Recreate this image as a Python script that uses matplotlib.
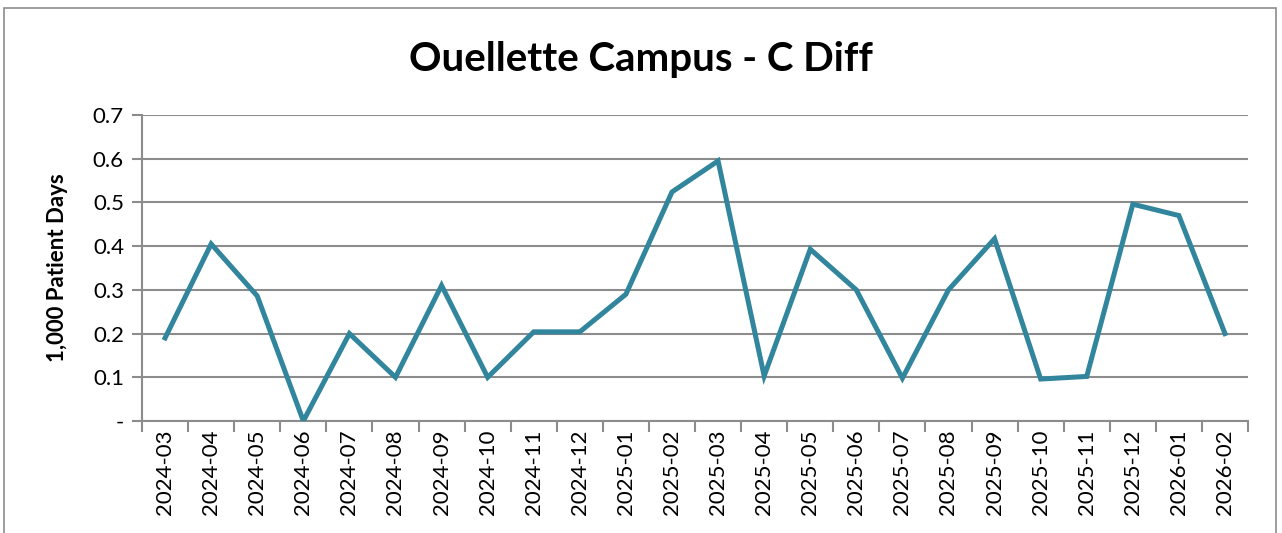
import matplotlib.pyplot as plt
import numpy as np
from matplotlib.patches import Rectangle
from matplotlib.ticker import FixedLocator, FuncFormatter

months = [
    "2024-03", "2024-04", "2024-05", "2024-06", "2024-07", "2024-08",
    "2024-09", "2024-10", "2024-11", "2024-12", "2025-01", "2025-02",
    "2025-03", "2025-04", "2025-05", "2025-06", "2025-07", "2025-08",
    "2025-09", "2025-10", "2025-11", "2025-12", "2026-01", "2026-02",
]
rates = [
    0.19, 0.405, 0.286, 0.0, 0.2, 0.1,
    0.31, 0.1, 0.204, 0.204, 0.29, 0.524,
    0.595, 0.103, 0.393, 0.3, 0.098, 0.3,
    0.417, 0.096, 0.102, 0.496, 0.47, 0.2,
]
y_ticks = [0, 0.1, 0.2, 0.3, 0.4, 0.5, 0.6, 0.7]

plt.rcParams["font.family"] = ["Lato", "DejaVu Sans"]
grid_col = "#8c8c8c"

fig = plt.figure(figsize=(12.82, 5.33), dpi=100)
ax = fig.add_axes([0.1108, 0.2101, 0.8627, 0.5741])

# outer chart frame
fig.patches.append(Rectangle((0.0035, -0.01), 0.992, 0.995, transform=fig.transFigure,
                             fill=False, edgecolor="#8c8c8c", linewidth=1.2))

x = np.arange(len(months))
ax.plot(x, rates, color="#31859C", linewidth=3.6, solid_joinstyle="miter", zorder=3)

ax.set_xlim(-0.5, len(months) - 0.5)
ax.set_ylim(0, 0.7)
ax.set_yticks(y_ticks)
ax.yaxis.set_major_formatter(FuncFormatter(lambda v, p: "-" if v == 0 else f"{v:.1f}"))
ax.grid(axis="y", color=grid_col, linewidth=1.5)
ax.set_axisbelow(True)

# category boundary ticks, labels at centers
ax.xaxis.set_major_locator(FixedLocator(np.arange(-0.5, len(months), 1.0)))
ax.xaxis.set_major_formatter(FuncFormatter(lambda v, p: ""))
ax.xaxis.set_minor_locator(FixedLocator(x))
ax.set_xticklabels(months, minor=True, rotation=90, fontsize=16)
ax.tick_params(axis="x", which="major", length=8, width=1.5, color=grid_col)
ax.tick_params(axis="x", which="minor", length=0, pad=6)
ax.tick_params(axis="y", length=7, width=1.5, color=grid_col, labelsize=16, pad=6)

for s in ["top", "right"]:
    ax.spines[s].set_visible(False)
for s in ["left", "bottom"]:
    ax.spines[s].set_color(grid_col)
    ax.spines[s].set_linewidth(1.5)

ax.set_ylabel("1,000 Patient Days", fontsize=16, fontweight="bold", labelpad=18)
fig.text(0.5, 0.888, "Ouellette Campus - C Diff", ha="center", va="center",
         fontsize=29, fontweight="bold")

fig.savefig("out.png", dpi=100)
